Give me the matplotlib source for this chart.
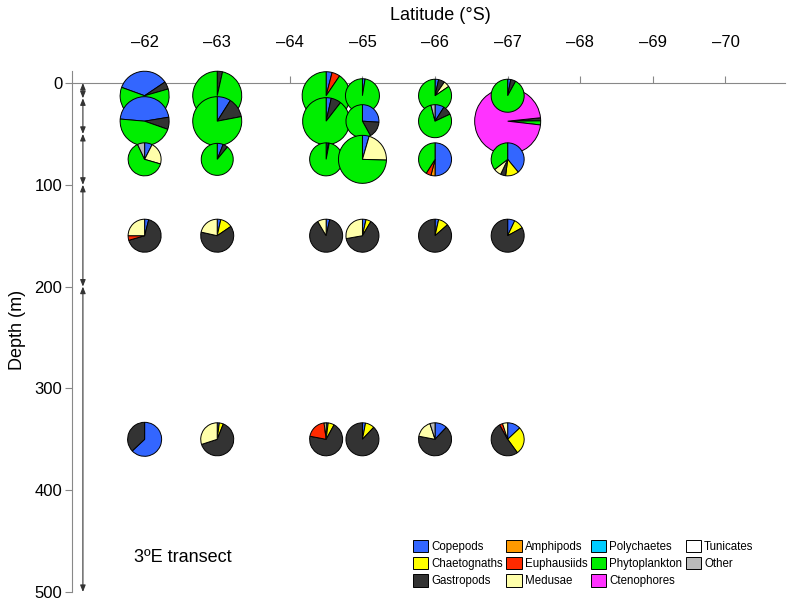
import matplotlib
matplotlib.use("Agg")
import matplotlib.pyplot as plt
from matplotlib.patches import Wedge, Patch
from matplotlib.transforms import ScaledTranslation

plt.rcParams["font.family"] = ["Liberation Sans", "DejaVu Sans"]

# Taxa (order used for the pie slices, clockwise from the start angle)
categories = ["Copepods", "Chaetognaths", "Gastropods", "Amphipods", "Euphausiids",
              "Medusae", "Polychaetes", "Phytoplankton", "Ctenophores", "Tunicates", "Other"]
colors = ["#3366ff", "#ffff00", "#333333", "#ff9900", "#ff2a00",
          "#ffffaa", "#00ccff", "#00ee00", "#ff33ff", "#ffffff", "#bbbbbb"]

# Stations (latitude) and sampling depths (m)
station_lats = [-62, -63, -64.5, -65, -66, -67]
sample_depths = [12.5, 37.5, 75, 150, 350]

# Fractions per station, one list per depth layer
#            Cop    Cha   Gas    Amp   Eup    Med    Pol  Phy    Cte    Tun  Oth
comp_12 = [[0.35,  0,    0.05,  0,    0,     0,     0,   0.60,  0,     0,   0],
           [0,     0,    0.035, 0,    0,     0,     0,   0.965, 0,     0,   0],
           [0.04,  0,    0,     0,    0.055, 0,     0,   0.905, 0,     0,   0],
           [0.025, 0,    0,     0,    0,     0,     0,   0.975, 0,     0,   0],
           [0.035, 0,    0.06,  0,    0,     0.06,  0,   0.845, 0,     0,   0],
           [0.03,  0,    0.05,  0,    0,     0,     0,   0.92,  0,     0,   0]]
comp_37 = [[0.46,  0,    0.08,  0,    0,     0,     0,   0.46,  0,     0,   0],
           [0.09,  0,    0.13,  0,    0,     0,     0,   0.78,  0,     0,   0],
           [0.035, 0,    0.07,  0,    0,     0,     0,   0.895, 0,     0,   0],
           [0.26,  0,    0.16,  0,    0,     0,     0,   0.58,  0,     0,   0],
           [0.09,  0,    0.09,  0,    0,     0,     0,   0.78,  0,     0,   0.04],
           [0,     0,    0.015, 0,    0,     0,     0,   0.02,  0.965, 0,   0]]
comp_75 = [[0.075, 0,    0,     0,    0,     0.22,  0,   0.635, 0,     0,   0.07],
           [0.06,  0,    0.05,  0,    0,     0,     0,   0.89,  0,     0,   0],
           [0.02,  0,    0.01,  0,    0,     0,     0,   0.97,  0,     0,   0],
           [0.045, 0,    0,     0,    0,     0.21,  0,   0.745, 0,     0,   0],
           [0.50,  0,    0,     0.04, 0.05,  0,     0,   0.41,  0,     0,   0],
           [0.39,  0.13, 0.05,  0,    0,     0.075, 0,   0.355, 0,     0,   0]]
comp_150 = [[0.04,  0,    0.665, 0,    0.045, 0.25,  0,   0,     0,     0,   0],
            [0.035, 0.12, 0.63,  0,    0,     0.215, 0,   0,     0,     0,   0],
            [0.035, 0,    0.88,  0,    0,     0.085, 0,   0,     0,     0,   0],
            [0.035, 0.05, 0.637, 0,    0,     0.278, 0,   0,     0,     0,   0],
            [0.035, 0.10, 0.865, 0,    0,     0,     0,   0,     0,     0,   0],
            [0.07,  0.10, 0.83,  0,    0,     0,     0,   0,     0,     0,   0]]
comp_350 = [[0.63,  0,    0.37,  0,    0,     0,     0,   0,     0,     0,   0],
            [0.02,  0.04, 0.64,  0,    0,     0.30,  0,   0,     0,     0,   0],
            [0.02,  0.06, 0.70,  0,    0.20,  0.02,  0,   0,     0,     0,   0],
            [0.03,  0.09, 0.88,  0,    0,     0,     0,   0,     0,     0,   0],
            [0.12,  0,    0.66,  0,    0,     0.17,  0,   0,     0,     0,   0.05],
            [0.13,  0.27, 0.52,  0,    0.03,  0.05,  0,   0,     0,     0,   0]]
compositions = [comp_12, comp_37, comp_75, comp_150, comp_350]

# Pie radius (pixels) per depth layer and station
radius_12 = [24.5, 24.5, 24, 17, 16.5, 16.5]
radius_37 = [24.5, 24.5, 23.5, 16.5, 16.5, 33]
radius_75 = [16.5, 16, 16.5, 24, 16.5, 16.5]
radius_150 = [16.5, 16.5, 16.5, 16.5, 16.5, 16.5]
radius_350 = [17, 16.5, 16.5, 16.5, 16.5, 16.5]
radii = [radius_12, radius_37, radius_75, radius_150, radius_350]

# Start angle of the first slice (degrees clockwise from 12 o'clock)
start_12 = [-70, 0, 0, 0, 0, 0]
start_37 = [-85, 0, 0, 0, 0, 84]
start_other = [0, 0, 0, 0, 0, 0]
starts = [start_12, start_37, start_other, start_other, start_other]

# Net sampling intervals (m)
net_intervals = [(0, 15), (15, 50), (50, 100), (100, 200), (200, 500)]

fig = plt.figure(figsize=(7.87, 6.02), dpi=100)
ax = fig.add_axes([0.0915, 0.0166, 0.906, 0.8658])
ax.set_xlim(-61.0, -70.82)
ax.set_ylim(500, -12)

gray = "#888888"
for s in ["right", "bottom"]:
    ax.spines[s].set_visible(False)
ax.spines["top"].set_position(("data", 0))
ax.spines["top"].set_color(gray)
ax.spines["left"].set_color(gray)
ax.xaxis.set_ticks_position("top")
ax.set_xticks(range(-62, -71, -1))
ax.set_xticklabels([f"\u2013{abs(v)}" for v in range(-62, -71, -1)])
ax.tick_params(axis="x", colors=gray, labelcolor="black", length=5, pad=19, labelsize=12)
ax.set_yticks(range(0, 501, 100))
ax.tick_params(axis="y", colors=gray, labelcolor="black", length=5, pad=2, labelsize=12)

# sampling interval arrows
for top, bottom in net_intervals:
    ax.annotate("", xy=(-61.15, bottom), xytext=(-61.15, top),
                arrowprops=dict(arrowstyle="<|-|>,head_length=0.5,head_width=0.2",
                                color="#333333", lw=0.8, shrinkA=0, shrinkB=0,
                                mutation_scale=8))

# pies
pies = []
for i, depth in enumerate(sample_depths):
    for j, lat in enumerate(station_lats):
        pies.append((lat, depth, radii[i][j], starts[i][j], compositions[i][j]))
pies.sort(key=lambda p: p[2] < 30)

for z, (lat, depth, r, start, fracs) in enumerate(pies):
    trans = fig.dpi_scale_trans + ScaledTranslation(lat, depth, ax.transData)
    total = sum(fracs)
    a = start
    for frac, col in zip(fracs, colors):
        if frac <= 0:
            continue
        b = a + 360 * frac / total
        w = Wedge((0, 0), r / 100, 90 - b, 90 - a, facecolor=col, edgecolor="black",
                  linewidth=0.7, transform=trans, clip_on=False, zorder=3 + z * 0.01)
        ax.add_patch(w)
        a = b

fig.text(440 / 787, 1 - 15 / 602, "Latitude (\u00b0S)", ha="center", va="center", fontsize=13)
fig.text(18 / 787, 1 - 330 / 602, "Depth (m)", ha="center", va="center", rotation=90, fontsize=13)
ax.text(-61.85, 466, "3\u00baE transect", fontsize=13, ha="left", va="center")

handles = [Patch(facecolor=c, edgecolor="black", linewidth=0.7) for c in colors]
fig.legend(handles, categories, ncol=4, loc="upper left",
           bbox_to_anchor=(407 / 787, 1 - 534 / 602), frameon=False, fontsize=8.3,
           handlelength=1.35, handleheight=1.25, columnspacing=0.3,
           handletextpad=0.25, labelspacing=0.38, borderpad=0)

fig.savefig("out.png", dpi=100)
